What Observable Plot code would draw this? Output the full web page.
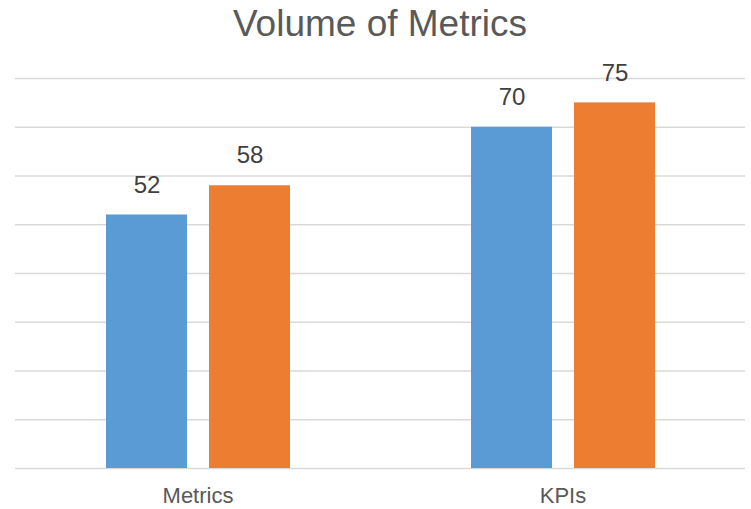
<!DOCTYPE html>
<html>
<head>
<meta charset="utf-8">
<script src="https://cdn.jsdelivr.net/npm/d3@7"></script>
<script src="https://cdn.jsdelivr.net/npm/@observablehq/plot@0.6"></script>
<style>
  html, body { margin: 0; padding: 0; background: #fff; }
  #wrap { width: 751px; height: 509px; overflow: hidden; font-family: "Liberation Sans", Arial, sans-serif; }
  #title { width: 751px; height: 43px; line-height: 43px; padding-left: 9px; padding-top: 2px; box-sizing: border-box;
           text-align: center; font-size: 37px; color: #595959; white-space: nowrap; overflow: visible; }
  svg { display: block; }
</style>
</head>
<body>
<div id="wrap">
  <div id="title">Volume of Metrics</div>
  <div id="chart"></div>
</div>
<script>
const categories = ["Metrics", "KPIs"];
const seriesNames = ["Series 1", "Series 2"];
const series1 = [52, 70];
const series2 = [58, 75];
const yTicks = [0, 10, 20, 30, 40, 50, 60, 70, 80];
const colors = ["#5B9BD5", "#ED7D31"];

const data = [];
categories.forEach((c, i) => {
  data.push({category: c, series: seriesNames[0], value: series1[i]});
  data.push({category: c, series: seriesNames[1], value: series2[i]});
});

const chart = Plot.plot({
  width: 751,
  height: 466,
  marginTop: 35,
  marginBottom: 41,
  marginLeft: 15,
  marginRight: 6,
  style: {fontFamily: "'Liberation Sans', Arial, sans-serif", background: "#fff"},
  fx: {domain: categories, padding: 0, label: null},
  x: {domain: seriesNames, paddingInner: 0.2136, paddingOuter: 0.874, axis: null},
  y: {domain: [0, 80], axis: null},
  color: {domain: seriesNames, range: colors},
  marks: [
    Plot.ruleY(yTicks, {stroke: "#d9d9d9", strokeWidth: 1.5}),
    Plot.barY(data, {fx: "category", x: "series", y: "value", fill: "series"}),
    Plot.text(data, {fx: "category", x: "series", y: "value", text: d => String(d.value),
      dy: -30, fontSize: 24, fill: "#404040"}),
    Plot.axisFx({anchor: "bottom", tickSize: 0, tickPadding: 19, fontSize: 22, color: "#595959", label: null})
  ]
});
document.getElementById("chart").appendChild(chart);
</script>
</body>
</html>
